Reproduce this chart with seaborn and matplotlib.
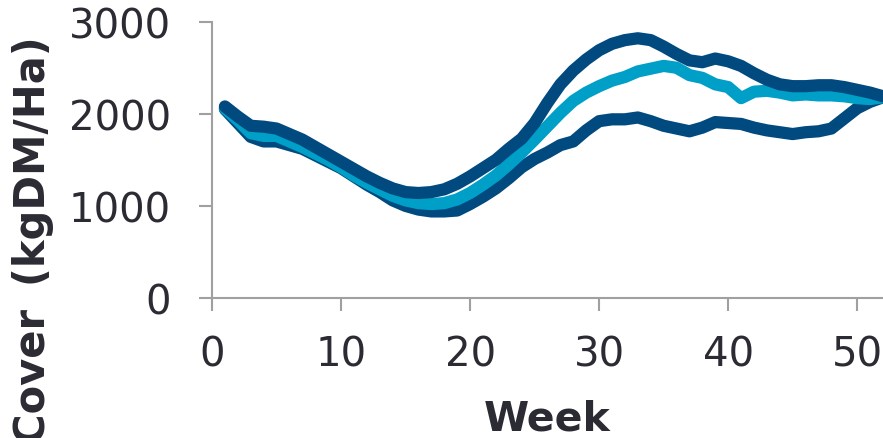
import numpy as np
import pandas as pd
import matplotlib
matplotlib.use("Agg")
import matplotlib.pyplot as plt
import seaborn as sns

weeks = list(range(1, 53))

# Weekly pasture cover (kgDM/Ha)
cover_max = [2080, 1970, 1870, 1860, 1840, 1780, 1720, 1640, 1560, 1480,
             1400, 1320, 1250, 1190, 1150, 1140, 1150, 1180, 1240, 1320,
             1410, 1500, 1620, 1730, 1900, 2120, 2320, 2470, 2590, 2690,
             2760, 2800, 2820, 2800, 2730, 2650, 2580, 2560, 2600, 2570,
             2520, 2440, 2370, 2320, 2300, 2300, 2310, 2310, 2290, 2260,
             2230, 2190]
cover_avg = [2060, 1930, 1790, 1760, 1760, 1700, 1640, 1570, 1500, 1420,
             1330, 1250, 1180, 1110, 1060, 1030, 1020, 1030, 1070, 1140,
             1230, 1330, 1450, 1580, 1720, 1865, 2010, 2140, 2230, 2300,
             2360, 2400, 2460, 2490, 2520, 2500, 2420, 2390, 2320, 2290,
             2170, 2240, 2250, 2230, 2200, 2210, 2200, 2200, 2190, 2170,
             2160, 2180]
cover_min = [2050, 1900, 1750, 1700, 1700, 1660, 1620, 1550, 1480, 1410,
             1320, 1230, 1150, 1060, 1000, 960, 940, 940, 950, 1020,
             1100, 1190, 1300, 1420, 1510, 1580, 1660, 1700, 1820, 1920,
             1940, 1940, 1960, 1920, 1870, 1840, 1810, 1850, 1910, 1900,
             1890, 1850, 1820, 1800, 1780, 1800, 1810, 1840, 1950, 2060,
             2130, 2180]

series_names = ["Minimum", "Average", "Maximum"]
series_colors = {"Minimum": "#004a80", "Average": "#009fc8", "Maximum": "#004a80"}

df = pd.concat([
    pd.DataFrame({"Week": weeks, "Cover": vals, "Series": name})
    for name, vals in zip(series_names, [cover_min, cover_avg, cover_max])
], ignore_index=True)

sns.set_theme(style="white")
plt.rcParams["font.family"] = ["DejaVu Sans"]

fig = plt.figure(figsize=(8.83, 4.39), dpi=100)
ax = fig.add_axes([212 / 883, 1 - 299 / 439, 1 - 212 / 883, (299 - 22.7) / 439])

sns.lineplot(data=df, x="Week", y="Cover", hue="Series", hue_order=series_names,
             palette=series_colors, linewidth=8.8, legend=False, ax=ax,
             solid_capstyle="round", solid_joinstyle="round")

ax.set_xlim(0, 52)
ax.set_ylim(0, 3000)
ax.set_xticks([0, 10, 20, 30, 40, 50])
ax.set_yticks([0, 1000, 2000, 3000])

for side in ["top", "right"]:
    ax.spines[side].set_visible(False)
for side in ["left", "bottom"]:
    ax.spines[side].set_color("#a0a0a0")
    ax.spines[side].set_linewidth(1.5)

ax.tick_params(axis="both", direction="out", length=9.5, width=1.5,
               color="#a0a0a0", labelsize=29, labelcolor="#2b2b33")
ax.tick_params(axis="x", pad=17, bottom=True)
ax.tick_params(axis="y", pad=20, left=True)

ax.set_xlabel("Week", fontsize=29.5, fontweight="bold", color="#2b2b33", labelpad=17)
ax.set_ylabel("")
fig.text(0.037, 0.918, "Pasture Cover \u2009(kgDM/Ha)", rotation=90, ha="center", va="top",
         fontsize=30, fontweight="bold", color="#2b2b33")

fig.savefig("out.png", dpi=100)
